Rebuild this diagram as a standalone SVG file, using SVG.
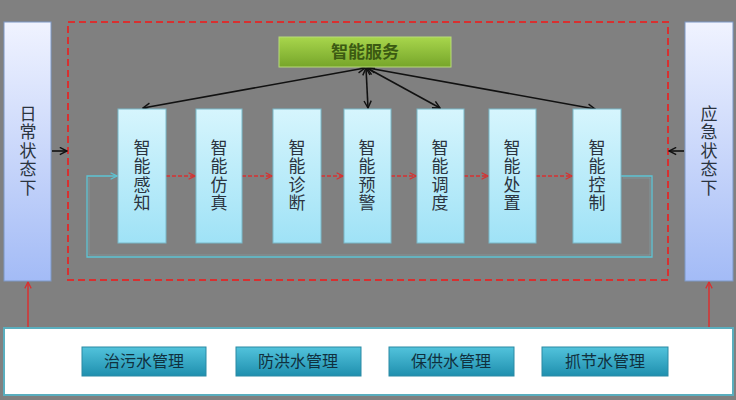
<svg xmlns="http://www.w3.org/2000/svg" width="736" height="400" viewBox="0 0 736 400">
<defs>
<linearGradient id="gState" x1="0" y1="0" x2="0" y2="1"><stop offset="0" stop-color="#f0f3ff"/><stop offset="1" stop-color="#a3bbf6"/></linearGradient>
<linearGradient id="gMod" x1="0" y1="0" x2="0" y2="1"><stop offset="0" stop-color="#d6f5fd"/><stop offset="1" stop-color="#9fe2f6"/></linearGradient>
<linearGradient id="gGreen" x1="0" y1="0" x2="0" y2="1"><stop offset="0" stop-color="#a8d64c"/><stop offset="1" stop-color="#76a52a"/></linearGradient>
<linearGradient id="gBtn" x1="0" y1="0" x2="0" y2="1"><stop offset="0" stop-color="#52c3dc"/><stop offset="1" stop-color="#1f8fae"/></linearGradient>
<marker id="ab" viewBox="0 0 10 10" refX="9" refY="5" markerWidth="9" markerHeight="9" markerUnits="userSpaceOnUse" orient="auto-start-reverse"><path d="M1,1 L9,5 L1,9" fill="none" stroke="#111" stroke-width="1.6"/></marker>
<marker id="ar" viewBox="0 0 10 10" refX="9" refY="5" markerWidth="8" markerHeight="8" markerUnits="userSpaceOnUse" orient="auto"><path d="M1,1 L9,5 L1,9" fill="none" stroke="#d83030" stroke-width="1.6"/></marker>
<marker id="ac" viewBox="0 0 10 10" refX="9" refY="5" markerWidth="8" markerHeight="8" markerUnits="userSpaceOnUse" orient="auto"><path d="M1,1 L9,5 L1,9" fill="none" stroke="#5cc4d4" stroke-width="1.6"/></marker>
</defs>
<style>
.st{fill:url(#gState);stroke:#7d98c6;stroke-width:1}
.mod{fill:url(#gMod);stroke:#79b8c8;stroke-width:1}
.btn{fill:url(#gBtn);stroke:#2a8aa4;stroke-width:1}
.vt{font-family:"Noto Sans CJK SC","Noto Sans",sans-serif;font-size:17px;fill:#2b3440;text-anchor:middle;writing-mode:vertical-rl;text-orientation:upright;letter-spacing:1.5px}
.bt{font-family:"Noto Sans CJK SC","Noto Sans",sans-serif;font-size:16px;fill:#10303e;text-anchor:middle}
.gt{font-family:"Noto Sans CJK SC","Noto Sans",sans-serif;font-size:17px;fill:#3b5a12;text-anchor:middle;font-weight:bold}
.blk{stroke:#111;stroke-width:1.6;fill:none}
.red{stroke:#d83030;stroke-width:1.5;fill:none}
</style>
<rect x="0" y="0" width="736" height="400" fill="#808080"/>
<rect x="68" y="22" width="600" height="258" fill="none" stroke="#d83030" stroke-width="2" stroke-dasharray="7,4"/>
<g id="connectors">
<polyline points="621,176 652,176 652,257 87,257 87,176 117,176" fill="none" stroke="#5cc4d4" stroke-width="1.3" marker-end="url(#ac)"/>
<polyline points="623,178 650,178 650,255 89,255 89,178" fill="none" stroke="#7fa8b0" stroke-width="0.8" opacity="0.6"/>
<line x1="166" y1="176" x2="195" y2="176" class="red" stroke-dasharray="4,2" marker-end="url(#ar)"/>
<line x1="242" y1="176" x2="272" y2="176" class="red" stroke-dasharray="4,2" marker-end="url(#ar)"/>
<line x1="321" y1="176" x2="343" y2="176" class="red" stroke-dasharray="4,2" marker-end="url(#ar)"/>
<line x1="391" y1="176" x2="416" y2="176" class="red" stroke-dasharray="4,2" marker-end="url(#ar)"/>
<line x1="464" y1="176" x2="488" y2="176" class="red" stroke-dasharray="4,2" marker-end="url(#ar)"/>
<line x1="536" y1="176" x2="572" y2="176" class="red" stroke-dasharray="4,2" marker-end="url(#ar)"/>
<line x1="365" y1="68" x2="143" y2="108" class="blk" marker-start="url(#ab)" marker-end="url(#ab)"/>
<line x1="366" y1="68" x2="368" y2="108" class="blk" marker-start="url(#ab)" marker-end="url(#ab)"/>
<line x1="367" y1="68" x2="440" y2="108" class="blk" marker-start="url(#ab)" marker-end="url(#ab)"/>
<line x1="368" y1="68" x2="595" y2="109" class="blk" marker-start="url(#ab)" marker-end="url(#ab)"/>
<line x1="52" y1="151" x2="67" y2="151" class="blk" marker-end="url(#ab)"/>
<line x1="684" y1="151" x2="669" y2="151" class="blk" marker-end="url(#ab)"/>
<line x1="28" y1="328" x2="28" y2="282" class="red" stroke-width="2" marker-end="url(#ar)"/>
<line x1="709" y1="328" x2="709" y2="282" class="red" stroke-width="2" marker-end="url(#ar)"/>
</g>
<g id="daily"><rect x="4" y="22" width="47" height="259" class="st"/><text class="vt" x="28" y="151">日常状态下</text></g>
<g id="emergency"><rect x="685" y="22" width="48" height="259" class="st"/><text class="vt" x="709" y="151">应急状态下</text></g>
<g id="service"><rect x="279" y="37" width="172" height="30" fill="url(#gGreen)" stroke="#b8dc78" stroke-width="1"/>
<text class="gt" x="365" y="58">智能服务</text></g>
<g id="m1"><rect x="118" y="109" width="48" height="134" class="mod"/><text class="vt" x="142" y="176">智能感知</text></g>
<g id="m2"><rect x="196" y="109" width="46" height="134" class="mod"/><text class="vt" x="219" y="176">智能仿真</text></g>
<g id="m3"><rect x="273" y="109" width="48" height="134" class="mod"/><text class="vt" x="297" y="176">智能诊断</text></g>
<g id="m4"><rect x="344" y="109" width="47" height="134" class="mod"/><text class="vt" x="367" y="176">智能预警</text></g>
<g id="m5"><rect x="417" y="109" width="47" height="134" class="mod"/><text class="vt" x="440" y="176">智能调度</text></g>
<g id="m6"><rect x="489" y="109" width="47" height="134" class="mod"/><text class="vt" x="512" y="176">智能处置</text></g>
<g id="m7"><rect x="573" y="109" width="48" height="134" class="mod"/><text class="vt" x="597" y="176">智能控制</text></g>
<g id="bottom"><rect x="4" y="328" width="729" height="67" fill="#ffffff" stroke="#5aaebe" stroke-width="2"/></g>
<g id="b1"><rect x="82" y="347" width="124" height="29" class="btn"/><text class="bt" x="144" y="367">治污水管理</text></g>
<g id="b2"><rect x="236" y="347" width="125" height="29" class="btn"/><text class="bt" x="298" y="367">防洪水管理</text></g>
<g id="b3"><rect x="389" y="347" width="125" height="29" class="btn"/><text class="bt" x="451" y="367">保供水管理</text></g>
<g id="b4"><rect x="542" y="347" width="126" height="29" class="btn"/><text class="bt" x="605" y="367">抓节水管理</text></g>
</svg>
